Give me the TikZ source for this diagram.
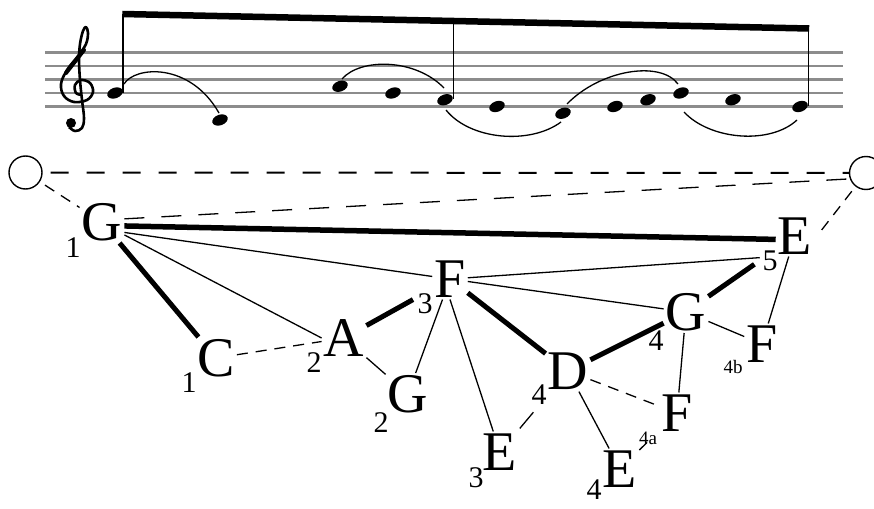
\documentclass[tikz,border=0pt]{standalone}
\usepackage{fontspec}
\setmainfont{Liberation Serif}
\usetikzlibrary{calc}

\begin{document}
\begin{tikzpicture}[x=1pt, y=-1pt]

% Styles for the reduction graph
\tikzstyle{pitch} = [inner sep=2pt, font=\fontsize{56}{56}\selectfont]
\tikzstyle{degree} = [inner sep=0pt, font=\fontsize{30}{30}\selectfont]
\tikzstyle{subdegree} = [inner sep=0pt, font=\fontsize{19}{19}\selectfont]
\tikzstyle{strong} = [line width=5pt]
\tikzstyle{weak} = [line width=1.3pt]
\tikzstyle{weakdash} = [line width=1.3pt, dash pattern=on 11pt off 8pt]
\tikzstyle{openhead} = [circle, draw, line width=1.4pt, minimum size=33pt, inner sep=0pt]

\useasboundingbox (0,0) rectangle (874,508);

% Staff lines
\foreach \y in {52.5, 66, 79.5, 93, 106.5}
  \draw[gray!90, line width=2.2pt] (45,\y) -- (843,\y);

% Treble clef
\fill (71,123) circle (5pt);
\draw[line width=2.6pt, line join=round] plot[smooth, tension=0.6] coordinates {(69,127) (75,131) (82,128) (84,118) (82,100) (80,80) (79,60) (80,44) (83,31) (86,27) (88,33) (86,44) (78,56) (67,70) (61,84) (64,96) (74,102) (87,100) (93,92) (90,83) (81,80) (75,85) (76,93) (82,95)};
\draw[line width=4pt, line cap=round] (84,50) -- (66,73);

% Noteheads
\foreach \i/\x/\y in {1/115/93, 2/220/120, 3/340/86.25, 4/393/93, 5/445/99.75, 6/497/106.5,
                      7/563/113.25, 8/615/106.5, 9/648/99.75, 10/681/93, 11/733/99.75, 12/800/106.5} {
  \coordinate (n\i) at (\x,\y);
  \fill[shift={(n\i)}, rotate=20] (0,0) ellipse (8pt and 5.3pt);
}

% Stems and beam
\coordinate (beamL) at (122.3,14);
\coordinate (beamR) at (809.2,28.5);
\draw[line width=1.4pt] (123,93) -- (123,14);
\draw[line width=1.4pt] (453.5,99) -- (453.5,21);
\draw[line width=1.4pt] (808.5,106) -- (808.5,28.5);
\draw[line width=6.5pt] (beamL) -- (beamR);

% Slurs
\draw[weak] (124,84) .. controls (135,66) and (190,62) .. (219,113);
\draw[weak] (342,79) .. controls (360,58) and (415,58) .. (444,88);
\draw[weak] (446,110) .. controls (470,140) and (530,145) .. (561,122);
\draw[weak] (567,104) .. controls (600,70) and (660,60) .. (678,84);
\draw[weak] (684,112) .. controls (710,140) and (770,145) .. (797,120);

% Open heads of the background
\node[openhead] (ol) at (25.5,172.5) {};
\node[openhead] (or) at (866,173) {};

% Pitches with their degrees
\node[pitch] (G1) at (102,222) {G};
\node[degree] (G1n) at (73,248) {1};
\node[pitch] (C1) at (216,358) {C};
\node[degree] (C1n) at (189,383) {1};
\node[pitch] (A2) at (344,338) {A};
\node[degree] (A2n) at (314,363) {2};
\node[pitch] (G2) at (408,394) {G};
\node[degree] (G2n) at (381,423) {2};
\node[pitch] (F3) at (450,279) {F};
\node[degree] (F3n) at (425,304) {3};
\node[pitch] (E3) at (500,452) {E};
\node[degree] (E3n) at (476,478) {3};
\node[pitch] (D4) at (568,371) {D};
\node[degree] (D4n) at (539,395) {4};
\node[pitch] (G4) at (686,312) {G};
\node[degree] (G4n) at (656,341) {4};
\node[pitch] (E5) at (795,236) {E};
\node[degree] (E5n) at (770,261) {5};
\node[pitch] (F4b) at (762,344) {F};
\node[subdegree] (F4bn) at (733,367) {4b};
\node[pitch] (F4a) at (677,413) {F};
\node[subdegree] (F4an) at (648,438) {4a};
\node[pitch] (E4) at (620,469) {E};
\node[degree] (E4n) at (594,490) {4};

% Structural lines
\draw[strong] (G1) -- (C1);
\draw[strong, line width=5.5pt] (G1.-10) -- (E5.190);
\draw[strong, shorten >=22pt] (A2) -- (F3);
\draw[strong] (F3) -- (D4);
\draw[strong] (D4) -- (G4);
\draw[strong, shorten >=26pt] (G4) -- (E5);

% Thin lines
\draw[weak] (G1.-25) -- (F3);
\draw[weak] (G1.-30) -- (A2.west);
\draw[weak, shorten >=16pt] (F3) -- (E5.south west);
\draw[weak] (F3) -- (G4);
\draw[weak] (F3) -- (G2);
\draw[weak] (F3.south) -- (E3);
\draw[weak] (A2) -- (G2);
\draw[weak, shorten <=4pt, shorten >=27pt] (E3) -- (D4);
\draw[weak] (D4) -- (E4);
\draw[weak] (G4) -- (F4a);
\draw[weak] (G4) -- (F4b);
\draw[weak] (E5) -- (F4b);

% Dashed lines
\draw[weakdash] (C1) -- (A2);
\draw[weakdash] (D4) -- (F4a);
\draw[weakdash, shorten >=17pt] (E4) -- (F4a);
\draw[weakdash, shorten <=6pt] (ol) -- (G1);
\draw[weakdash, dash pattern=on 20pt off 17pt] (G1.8) -- (or.200);
\draw[weakdash, shorten <=12pt] (E5.-10) -- (or);
\draw[line width=2pt, dash pattern=on 18pt off 18pt, shorten <=8pt] (ol) -- (or);

\end{tikzpicture}
\end{document}
